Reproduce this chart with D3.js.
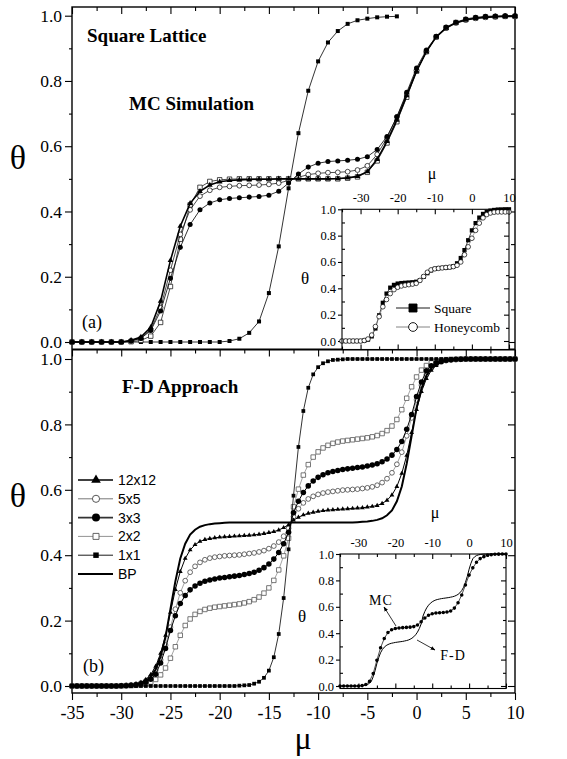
<!DOCTYPE html>
<html>
<head>
<meta charset="utf-8">
<script src="https://cdn.jsdelivr.net/npm/d3@7"></script>
<style>
  body { margin: 0; background: #fff; }
  text { font-family: "Liberation Serif", "Times New Roman", serif; }
</style>
</head>
<body>
<div id="chart"></div>
<script>
// ---- data ----
// MC runs: one point per unit of mu
const muMC = [-35,-34,-33,-32,-31,-30,-29,-28,-27,-26,-25,-24,-23,-22,-21,-20,-19,-18,-17,-16,-15,-14,-13,-12,-11,-10,-9,-8,-7,-6,-5,-4,-3,-2,-1,0,1,2,3,4,5,6,7,8,9,10];
const mc12 = [0,0,0,0,0,0, 0.005,0.015,0.045,0.125,0.25,0.355,0.425,0.462,0.481,0.491, 0.495,0.497,0.498,0.499,0.499,0.5,0.5,0.5,0.5,0.5, 0.5,0.501,0.503,0.508,0.522,0.56,0.615,0.68,0.755,0.83, 0.89,0.935,0.962,0.978,0.987,0.992,0.995,0.997,0.998,0.998];
const mc5 = [0,0,0,0,0,0, 0.004,0.012,0.038,0.105,0.22,0.33,0.405,0.447,0.465,0.474, 0.477,0.479,0.48,0.481,0.483,0.487,0.495,0.505,0.513,0.517, 0.519,0.52,0.522,0.527,0.54,0.575,0.625,0.69,0.76,0.832, 0.89,0.935,0.962,0.978,0.987,0.992,0.995,0.997,0.998,0.998];
const mc3 = [0,0,0,0,0,0, 0.003,0.011,0.035,0.095,0.195,0.29,0.36,0.405,0.426,0.436, 0.44,0.442,0.444,0.446,0.45,0.462,0.487,0.515,0.536,0.548, 0.553,0.555,0.557,0.56,0.568,0.59,0.63,0.69,0.765,0.84, 0.895,0.937,0.965,0.98,0.99,0.995,0.998,0.999,1,1];
const mc2 = [0,0,0,0,0,0, 0.001,0.005,0.018,0.06,0.17,0.315,0.42,0.474,0.492,0.497, 0.499,0.5,0.5,0.5,0.5,0.5,0.5,0.5,0.5,0.5, 0.5,0.5,0.502,0.506,0.52,0.555,0.61,0.675,0.75,0.83, 0.89,0.935,0.963,0.979,0.988,0.993,0.996,0.997,0.998,0.998];
const mc1 = [0,0,0,0,0,0,0,0,0,0,0,0,0,0,0,0, 0.003,0.01,0.028,0.063,0.15,0.293,0.471,0.64,0.77,0.86,0.918,0.953,0.975,0.986,0.991,0.995,0.997,0.998];
const honeycomb = [0,0,0,0,0,0, 0.004,0.015,0.045,0.11,0.185,0.26,0.315,0.36,0.39,0.408, 0.418,0.424,0.428,0.432,0.438,0.46,0.49,0.522,0.54,0.548, 0.552,0.555,0.558,0.561,0.565,0.575,0.6,0.655,0.715,0.78, 0.84,0.895,0.935,0.96,0.972,0.978,0.98,0.98,0.98,0.98];

// F-D approach: one point per half unit of mu
const muFD = [-35,-34.5,-34,-33.5,-33,-32.5,-32,-31.5,-31,-30.5,-30,-29.5,-29,-28.5,-28,-27.5,-27,-26.5,-26,-25.5,-25,-24.5,-24,-23.5,-23,-22.5,-22,-21.5,-21,-20.5,-20,-19.5,-19,-18.5,-18,-17.5,-17,-16.5,-16,-15.5,-15,-14.5,-14,-13.5,-13,-12.5,-12,-11.5,-11,-10.5,-10,-9.5,-9,-8.5,-8,-7.5,-7,-6.5,-6,-5.5,-5,-4.5,-4,-3.5,-3,-2.5,-2,-1.5,-1,-0.5,0,0.5,1,1.5,2,2.5,3,3.5,4,4.5,5,5.5,6,6.5,7,7.5,8,8.5,9,9.5,10];
const fdBP = [0,0,0,0,0,0,0,0,0,0, 0,0.001,0.002,0.004,0.008,0.015,0.028,0.05,0.09,0.15, 0.235,0.32,0.39,0.435,0.463,0.478,0.487,0.492,0.495,0.497, 0.498,0.499,0.5,0.5,0.5,0.5,0.5,0.5,0.5,0.5,0.5,0.5,0.5,0.5,0.5,
  0.5,0.5,0.5,0.5,0.5,0.5,0.5,0.5,0.5,0.5,0.5,0.5,0.5, 0.501,0.502,0.503,0.505,0.508,0.513,0.522,0.537,0.565,0.61,0.68,0.765,0.85,0.91,0.95,0.972,0.985,0.992,0.996,0.998,0.999, 1,1,1,1,1,1,1,1,1,1,1,1];
const fd12 = [0,0,0,0,0,0,0,0,0,0, 0.001,0.002,0.003,0.006,0.011,0.02,0.035,0.06,0.1,0.155, 0.225,0.295,0.35,0.39,0.416,0.432,0.442,0.448,0.451,0.453, 0.455,0.456,0.457,0.458,0.459,0.46,0.461,0.462,0.464,0.466, 0.469,0.472,0.477,0.484,0.493,
  0.507,0.516,0.523,0.528,0.531,0.534,0.536,0.538,0.539,0.54, 0.541,0.542,0.543,0.544,0.545,0.547,0.549,0.552,0.558,0.568, 0.584,0.61,0.65,0.705,0.775,0.845,0.9,0.94,0.965,0.98, 0.989,0.994,0.997,0.998,0.999, 1,1,1,1,1,1,1,1,1,1,1];
const fd5 = [0,0,0,0,0,0,0,0,0,0, 0.001,0.002,0.003,0.005,0.009,0.016,0.028,0.048,0.08,0.125, 0.18,0.235,0.285,0.322,0.348,0.366,0.378,0.386,0.391,0.394, 0.396,0.398,0.399,0.4,0.401,0.403,0.405,0.407,0.41,0.414, 0.42,0.428,0.44,0.458,0.482,
  0.518,0.542,0.56,0.572,0.58,0.586,0.59,0.593,0.595,0.597, 0.599,0.6,0.601,0.602,0.604,0.606,0.609,0.614,0.622,0.634, 0.652,0.678,0.715,0.765,0.82,0.875,0.92,0.952,0.972,0.984, 0.991,0.995,0.997,0.998,0.999, 1,1,1,1,1,1,1,1,1,1,1];
const fd3 = [0,0,0,0,0,0,0,0,0,0, 0.001,0.001,0.002,0.004,0.007,0.012,0.021,0.036,0.07,0.115, 0.17,0.215,0.252,0.277,0.294,0.306,0.314,0.32,0.324,0.327, 0.33,0.332,0.334,0.336,0.338,0.341,0.344,0.348,0.354,0.362, 0.373,0.388,0.408,0.435,0.47,
  0.53,0.565,0.592,0.612,0.627,0.638,0.646,0.652,0.656,0.659, 0.662,0.664,0.666,0.668,0.67,0.673,0.676,0.68,0.686,0.694, 0.706,0.723,0.748,0.785,0.83,0.885,0.93,0.964,0.979,0.988, 0.993,0.996,0.998,0.999,0.999, 1,1,1,1,1,1,1,1,1,1,1];
const fd2 = [0,0,0,0,0,0,0,0,0,0,0, 0.001,0.001,0.002,0.004,0.007,0.012,0.02,0.034,0.055, 0.085,0.12,0.155,0.185,0.205,0.219,0.228,0.234,0.238,0.241, 0.243,0.245,0.247,0.249,0.251,0.254,0.258,0.264,0.272,0.284, 0.3,0.323,0.355,0.398,0.452,
  0.548,0.602,0.645,0.677,0.7,0.716,0.728,0.736,0.742,0.746, 0.749,0.751,0.753,0.755,0.757,0.759,0.762,0.766,0.772,0.781, 0.795,0.815,0.845,0.88,0.915,0.945,0.966,0.98,0.988,0.993, 0.996,0.998,0.999,0.999, 1,1,1,1,1,1,1,1,1,1,1,1];
const fd1 = [0,0,0,0,0,0,0,0,0,0,0,0,0,0,0,0,0,0,0,0,0,0,0,0,0,0,0,0,0,0,0,0,0,0, 0.001,0.002,0.003,0.007,0.013,0.025,0.047,0.088,0.159,0.269,0.418,
  0.582,0.731,0.841,0.912,0.953,0.975,0.987,0.993,0.997,0.998,0.999, 1,1,1,1,1,1,1,1,1,1,1,1,1,1,1,1,1,1,1,1,1,1,1,1,1,1,1,1,1,1,1,1,1,1,1];

const legendLabels = ["12x12", "5x5", "3x3", "2x2", "1x1", "BP"];
const xMajor = [-35,-30,-25,-20,-15,-10,-5,0,5,10];
const xMinor = [-32.5,-27.5,-22.5,-17.5,-12.5,-7.5,-2.5,2.5,7.5];
const yMajor = [0,0.2,0.4,0.6,0.8,1.0];
const yMinor = [0.1,0.3,0.5,0.7,0.9];
const insetXMajor = [-30,-20,-10,0,10];
const insetXMinor = [-35,-25,-15,-5,5];

// ---- layout ----
const W = 567, H = 759;
const L = 72, R = 515, T = 7, MID = 349.5, B = 693;

const x = d3.scaleLinear().domain([-35, 10]).range([L, R]);
const yTop = d3.scaleLinear().domain([0, 1]).range([342, 15.7]);
const yBot = d3.scaleLinear().domain([0, 1]).range([686, 359]);

const xa = d3.scaleLinear().domain([-35, 10]).range([342, 509]);
const ya = d3.scaleLinear().domain([0, 1]).range([341, 209.3]);
const xb = d3.scaleLinear().domain([-35, 10]).range([340, 506]);
const yb = d3.scaleLinear().domain([0, 1]).range([686, 554]);

const svg = d3.select("#chart").append("svg")
    .attr("width", W).attr("height", H);

svg.append("rect").attr("width", W).attr("height", H).attr("fill", "#fff");

const serif = "Liberation Serif, Times New Roman, serif";

function axisG(axis, tx, ty, fs) {
    const g = svg.append("g")
        .attr("transform", `translate(${tx},${ty})`)
        .call(axis);
    g.attr("font-family", serif).attr("font-size", fs || 17);
    g.select(".domain").remove();
    g.selectAll("line").attr("stroke", "#000").attr("stroke-width", 1.1);
    g.selectAll("text").attr("fill", "#000");
    return g;
}

function series(g, xs, ys, mu, vals, o) {
    const pts = vals.map((v, i) => [xs(mu[i]), ys(v)]);
    if (o.line) {
        g.append("path")
            .attr("d", d3.line()(pts))
            .attr("fill", "none")
            .attr("stroke", o.lineColor || "#000")
            .attr("stroke-width", o.line);
    }
    if (o.symbol) {
        g.selectAll(null).data(pts).enter().append("path")
            .attr("transform", d => `translate(${d[0]},${d[1]})`)
            .attr("d", d3.symbol(o.symbol, o.size))
            .attr("fill", o.fill)
            .attr("stroke", o.stroke || "none")
            .attr("stroke-width", o.sw || 0);
    }
}

// ----------------------------
// MAIN AXES
// ----------------------------
const fmtX = d => String(d);
const fmtY = d3.format(".1f");

// bottom axis (outward)
axisG(d3.axisBottom(x).tickValues(xMajor).tickSize(7).tickPadding(6).tickFormat(fmtX), 0, B, 18);
axisG(d3.axisBottom(x).tickValues(xMinor).tickSize(4).tickFormat(""), 0, B);
// top of upper panel and top of lower panel (inward)
[T, MID].forEach(yy => {
    axisG(d3.axisBottom(x).tickValues(xMajor).tickSize(7).tickFormat(""), 0, yy);
    axisG(d3.axisBottom(x).tickValues(xMinor).tickSize(4).tickFormat(""), 0, yy);
});
// left axes (outward) with labels, right axes (inward)
[yTop, yBot].forEach(ys => {
    axisG(d3.axisLeft(ys).tickValues(yMajor).tickSize(7).tickPadding(3).tickFormat(fmtY), L, 0, 17.5);
    axisG(d3.axisLeft(ys).tickValues(yMinor).tickSize(3).tickFormat(""), L, 0);
    axisG(d3.axisLeft(ys).tickValues(yMajor).tickSize(7).tickFormat(""), R, 0);
    axisG(d3.axisLeft(ys).tickValues(yMinor).tickSize(4).tickFormat(""), R, 0);
});

// frames
svg.append("rect").attr("x", L).attr("y", T).attr("width", R - L).attr("height", B - T)
    .attr("fill", "none").attr("stroke", "#000").attr("stroke-width", 1.4);
svg.append("line").attr("x1", L).attr("x2", R).attr("y1", MID).attr("y2", MID)
    .attr("stroke", "#000").attr("stroke-width", 1.8);

// ----------------------------
// UPPER PANEL: MC
// ----------------------------
const gTop = svg.append("g");
series(gTop, x, yTop, muMC, mc1, { line: 0.8, symbol: d3.symbolSquare, size: 16, fill: "#000" });
series(gTop, x, yTop, muMC, mc2, { line: 0.7, symbol: d3.symbolSquare, size: 20, fill: "#fff", stroke: "#000", sw: 0.7 });
series(gTop, x, yTop, muMC, mc5, { line: 0.7, symbol: d3.symbolCircle, size: 18, fill: "#fff", stroke: "#000", sw: 0.7 });
series(gTop, x, yTop, muMC, mc3, { line: 0.8, symbol: d3.symbolCircle, size: 20, fill: "#000" });
series(gTop, x, yTop, muMC, mc12, { line: 1.6, symbol: d3.symbolTriangle, size: 14, fill: "#000" });

// ----------------------------
// LOWER PANEL: F-D
// ----------------------------
const gBot = svg.append("g");
series(gBot, x, yBot, muFD, fd2, { line: 0.6, lineColor: "#666", symbol: d3.symbolSquare, size: 20, fill: "#fff", stroke: "#555", sw: 0.8 });
series(gBot, x, yBot, muFD, fd5, { line: 0.6, lineColor: "#666", symbol: d3.symbolCircle, size: 18, fill: "#fff", stroke: "#444", sw: 0.8 });
series(gBot, x, yBot, muFD, fd3, { line: 1, symbol: d3.symbolCircle, size: 24, fill: "#000" });
series(gBot, x, yBot, muFD, fd12, { line: 1, symbol: d3.symbolTriangle, size: 10, fill: "#000" });
series(gBot, x, yBot, muFD, fd1, { line: 0.8, symbol: d3.symbolSquare, size: 14, fill: "#000" });
series(gBot, x, yBot, muFD, fdBP, { line: 2 });

// legend
const legendStyles = [
    { line: 1.6, color: "#000", symbol: d3.symbolTriangle, size: 40, fill: "#000" },
    { line: 0.8, color: "#555", symbol: d3.symbolCircle, size: 40, fill: "#fff", stroke: "#444" },
    { line: 1.6, color: "#333", symbol: d3.symbolCircle, size: 50, fill: "#000" },
    { line: 0.8, color: "#777", symbol: d3.symbolSquare, size: 36, fill: "#fff", stroke: "#555" },
    { line: 0.9, color: "#000", symbol: d3.symbolSquare, size: 30, fill: "#000" },
    { line: 2, color: "#000" }
];
const legend = svg.append("g").attr("transform", "translate(78,480)");
legendLabels.forEach((lab, i) => {
    const s = legendStyles[i];
    const g = legend.append("g").attr("transform", `translate(0,${i * 18.8})`);
    g.append("line").attr("x1", 0).attr("x2", 35).attr("stroke", s.color).attr("stroke-width", s.line);
    if (s.symbol) {
        g.append("path").attr("transform", "translate(18,0)")
            .attr("d", d3.symbol(s.symbol, s.size))
            .attr("fill", s.fill).attr("stroke", s.stroke || "none").attr("stroke-width", 0.9);
    }
    g.append("text").attr("x", 40).attr("dy", "0.36em")
        .style("font-family", "Liberation Sans, Arial, sans-serif")
        .attr("font-size", 14).text(lab);
});

// ----------------------------
// INSETS
// ----------------------------
function insetAxes(xs, ys, top, bottom) {
    const [x0, x1] = xs.range();
    svg.append("rect").attr("x", x0).attr("y", top).attr("width", x1 - x0).attr("height", bottom - top)
        .attr("fill", "#fff");
    axisG(d3.axisTop(xs).tickValues(insetXMajor).tickSize(0).tickPadding(7).tickFormat(fmtX), 0, top, 12.5);
    axisG(d3.axisBottom(xs).tickValues(insetXMajor).tickSize(5).tickFormat(""), 0, top);
    axisG(d3.axisBottom(xs).tickValues(insetXMinor).tickSize(3).tickFormat(""), 0, top);
    axisG(d3.axisTop(xs).tickValues(insetXMajor).tickSize(5).tickFormat(""), 0, bottom);
    axisG(d3.axisTop(xs).tickValues(insetXMinor).tickSize(3).tickFormat(""), 0, bottom);
    axisG(d3.axisLeft(ys).tickValues(yMajor).tickSize(4).tickPadding(2).tickFormat(fmtY), x0, 0, 12.5);
    axisG(d3.axisRight(ys).tickValues(yMinor).tickSize(3).tickFormat(""), x0, 0);
    axisG(d3.axisLeft(ys).tickValues(yMajor).tickSize(5).tickFormat(""), x1, 0);
    axisG(d3.axisLeft(ys).tickValues(yMinor).tickSize(3).tickFormat(""), x1, 0);
    return () => svg.append("rect").attr("x", x0).attr("y", top).attr("width", x1 - x0).attr("height", bottom - top)
        .attr("fill", "none").attr("stroke", "#000").attr("stroke-width", 1.1);
}

// inset (a)
const frameA = insetAxes(xa, ya, 209.3, MID);
const gA = svg.append("g");
series(gA, xa, ya, muMC, mc3, { line: 0.7, symbol: d3.symbolSquare, size: 18, fill: "#000" });
series(gA, xa, ya, muMC, honeycomb, { line: 0.6, lineColor: "#777", symbol: d3.symbolCircle, size: 17, fill: "#fff", stroke: "#000", sw: 0.7 });
frameA();

const legA = svg.append("g").attr("transform", "translate(396,308)");
[["Square", "#000", d3.symbolSquare, 64, "#000"], ["Honeycomb", "#777", d3.symbolCircle, 60, "#fff"]].forEach((e, i) => {
    const g = legA.append("g").attr("transform", `translate(0,${i * 19})`);
    g.append("line").attr("x1", 0).attr("x2", 34).attr("stroke", e[1]).attr("stroke-width", 0.9);
    g.append("path").attr("transform", "translate(17,0)").attr("d", d3.symbol(e[2], e[3]))
        .attr("fill", e[4]).attr("stroke", "#000").attr("stroke-width", 0.9);
    g.append("text").attr("x", 38).attr("dy", "0.34em").attr("font-size", 13.5).text(e[0]);
});

// inset (b)
const frameB = insetAxes(xb, yb, 554, 688.5);
const gB = svg.append("g");
series(gB, xb, yb, muFD, fd3, { line: 1 });
series(gB, xb, yb, muMC, mc3, { line: 0.7, symbol: d3.symbolCircle, size: 10, fill: "#000" });
frameB();

// arrows
const defs = svg.append("defs");
defs.append("marker").attr("id", "arr").attr("viewBox", "0 0 10 10").attr("refX", 9).attr("refY", 5)
    .attr("markerWidth", 6).attr("markerHeight", 6).attr("orient", "auto")
    .append("path").attr("d", "M0,1 L10,5 L0,9 Z").attr("fill", "#000");
svg.append("line").attr("x1", 396).attr("y1", 626).attr("x2", 384).attr("y2", 607)
    .attr("stroke", "#000").attr("stroke-width", 0.8).attr("marker-end", "url(#arr)");
svg.append("line").attr("x1", 417).attr("y1", 640).attr("x2", 435).attr("y2", 650)
    .attr("stroke", "#000").attr("stroke-width", 0.8).attr("marker-end", "url(#arr)");
svg.append("text").attr("x", 381).attr("y", 600).attr("dy", "0.35em").attr("text-anchor", "middle")
    .attr("font-size", 14).attr("letter-spacing", 1).text("MC");
svg.append("text").attr("x", 453).attr("y", 655).attr("dy", "0.35em").attr("text-anchor", "middle")
    .attr("font-size", 14).attr("letter-spacing", 1).text("F-D");

// ----------------------------
// LABELS
// ----------------------------
function label(txt, xx, yy, fs, opts) {
    opts = opts || {};
    return svg.append("text").attr("x", xx).attr("y", yy).attr("dy", "0.35em")
        .attr("text-anchor", opts.anchor || "start")
        .attr("font-size", fs)
        .attr("font-weight", opts.bold ? "bold" : "normal")
        .text(txt);
}
label("Square Lattice", 87, 35, 19, { bold: true });
label("MC Simulation", 129, 103, 19, { bold: true });
label("F-D Approach", 122, 386, 19, { bold: true });
label("(a)", 82, 322, 18);
label("(b)", 83, 666, 18);
label("θ", 18, 157, 34, { anchor: "middle" });
label("θ", 18, 495, 34, { anchor: "middle" });
label("μ", 303, 738, 32, { anchor: "middle" });
label("θ", 305, 278, 17, { anchor: "middle" });
label("θ", 302, 616, 17, { anchor: "middle" });
label("μ", 432, 173, 16, { anchor: "middle" });
label("μ", 435, 512, 16, { anchor: "middle" });
</script>
</body>
</html>
